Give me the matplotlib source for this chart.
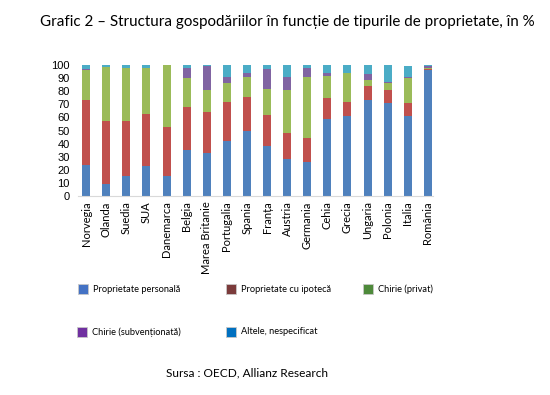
import matplotlib.pyplot as plt
import numpy as np
from matplotlib.patches import Rectangle

plt.rcParams['font.family'] = ['Lato', 'DejaVu Sans']

# data --------------------------------------------------------------------
countries = ["Norvegia", "Olanda", "Suedia", "SUA", "Danemarca", "Belgia",
             "Marea Britanie", "Portugalia", "Spania", "Franța", "Austria",
             "Germania", "Cehia", "Grecia", "Ungaria", "Polonia", "Italia",
             "România"]
personala = [24, 9, 15, 23, 15, 35, 33, 42, 50, 38, 28, 26, 59, 61, 73, 71, 61, 96]
ipoteca = [49, 48.5, 42.5, 40, 38, 33, 31, 30, 26, 24, 20, 18, 16, 11, 11, 10, 10, 1]
privat = [23, 41, 40, 35, 47, 22, 17, 14, 15, 20, 33, 47, 17, 22, 5, 5, 19, 1]
subventionata = [1, 0, 0, 0, 0, 8, 18, 5, 3, 15, 10, 7, 2, 0, 4, 1, 1, 1]
altele = [3, 1.5, 2.5, 2, 0, 2, 1, 9, 6, 3, 9, 2, 6, 6, 7, 13, 8, 1]

series = [personala, ipoteca, privat, subventionata, altele]
bar_colors = ["#4F81BD", "#C0504D", "#9BBB59", "#8064A2", "#4BACC6"]
legend_labels = ["Proprietate personală", "Proprietate cu ipotecă", "Chirie (privat)",
                 "Chirie (subvenționată)", "Altele, nespecificat"]
legend_colors = ["#4472C4", "#7B3B3B", "#4E8A3A", "#7030A0", "#0070C0"]

# figure ------------------------------------------------------------------
fig = plt.figure(figsize=(5.5, 3.95), dpi=100)
ax = fig.add_axes([0.142, 0.504, 0.645, 0.331])

x = np.arange(len(countries))
bottom = np.zeros(len(countries))
for vals, col in zip(series, bar_colors):
    ax.bar(x, vals, width=0.4, bottom=bottom, color=col, linewidth=0)
    bottom += np.array(vals)

ax.set_xlim(-0.4, 17.25)
ax.set_ylim(0, 100)
ax.set_yticks(range(0, 101, 10))
ax.set_xticks(x)
ax.set_xticklabels(countries, rotation=90, fontsize=8)
ax.tick_params(axis='y', labelsize=8, length=0, pad=6)
ax.tick_params(axis='x', length=0, pad=4)
for lab in ax.get_yticklabels():
    lab.set_family(['Liberation Sans', 'DejaVu Sans'])
for s in ['top', 'right', 'left']:
    ax.spines[s].set_visible(False)
ax.spines['bottom'].set_color('#D9D9D9')

fig.text(0.073, 0.945, "Grafic 2 – Structura gospodăriilor în funcție de tipurile de proprietate, în %",
         fontsize=10.9, ha='left', va='center')

# legend, placed by hand
leg_pos = [(78, 289), (226, 289), (363, 289), (77, 332), (226, 332)]
for (px, py), lab, col in zip(leg_pos, legend_labels, legend_colors):
    fig.patches.append(Rectangle((px / 550, 1 - (py + 5) / 395), 10 / 550, 10 / 395,
                                 transform=fig.transFigure, facecolor=col,
                                 edgecolor='#C8C8C8', linewidth=0.6))
    fig.text((px + 15) / 550, 1 - py / 395, lab, fontsize=6.7, ha='left', va='center')

fig.text(247 / 550, 1 - 373 / 395, "Sursa : OECD, Allianz Research", fontsize=8.6,
         ha='center', va='center')

fig.savefig("out.png", dpi=100)
